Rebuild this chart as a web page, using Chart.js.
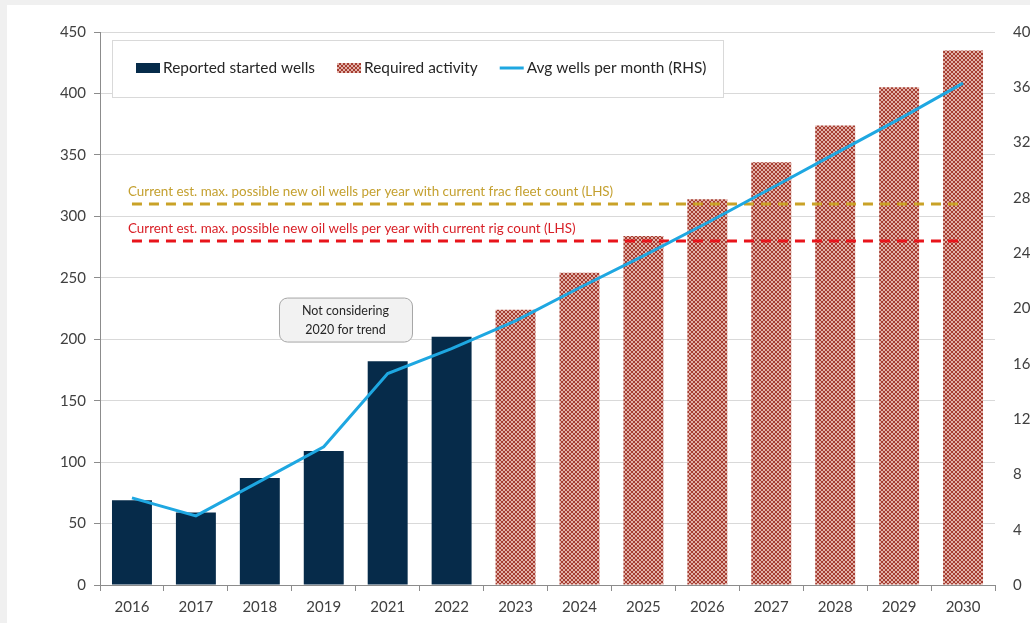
<!DOCTYPE html>
<html>
<head>
<meta charset="utf-8">
<script src="https://cdn.jsdelivr.net/npm/chart.js@4/dist/chart.umd.min.js"></script>
<style>
  html, body { margin: 0; padding: 0; background: #f0f0f0; overflow: hidden; }
  #wrap { position: absolute; left: 7px; top: 5px; width: 1023px; height: 618px; background: #fff; }
</style>
</head>
<body>
<div id="wrap"><canvas id="grafica"></canvas></div>
<script>
// datos del grafico
const years = ['2016', '2017', '2018', '2019', '2021', '2022', '2023', '2024', '2025', '2026', '2027', '2028', '2029', '2030']
const reportedWells = [69, 59, 87, 109, 182, 202, null, null, null, null, null, null, null, null]
const requiredActivity = [null, null, null, null, null, null, 224, 254, 284, 314, 344, 374, 405, 435]
const avgWellsPerMonth = [6.3, 5.0, 7.5, 10.0, 15.3, 17.1, 19.1, 21.5, 23.8, 26.2, 28.7, 31.2, 33.7, 36.3]
const fracFleetMax = 310
const rigCountMax = 280
const fracFleetLine = [310, 310, 310, 310, 310, 310, 310, 310, 310, 310, 310, 310, 310, 310]
const rigCountLine = [280, 280, 280, 280, 280, 280, 280, 280, 280, 280, 280, 280, 280, 280]
const fracText = 'Current est. max. possible new oil wells per year with current frac fleet count (LHS)'
const rigText = 'Current est. max. possible new oil wells per year with current rig count (LHS)'
const noteLines = ['Not considering', '2020 for trend']

const navy = '#062b4a'
const blue = '#1ea7e1'
const gold = '#c9a227'
const red = '#e8141b'
const fontFam = 'Lato, "Open Sans", sans-serif'

// relleno punteado de las barras "Required activity"
function makePattern() {
  const c = document.createElement('canvas')
  c.width = 4; c.height = 4
  const g = c.getContext('2d')
  g.fillStyle = '#a63d31'
  g.fillRect(0, 0, 4, 4)
  g.fillStyle = '#e2b2a9'
  g.fillRect(0, 0, 2, 2)
  g.fillRect(2, 2, 2, 2)
  return g.createPattern(c, 'repeat')
}
const brick = makePattern()

// leyenda con recuadro, dibujada a mano
const legendBox = {
  id: 'legendBox',
  afterDraw(chart) {
    const { ctx, chartArea } = chart
    const x0 = chartArea.left + 12, y0 = chartArea.top + 8
    ctx.save()
    ctx.fillStyle = '#fff'
    ctx.strokeStyle = '#d9d9d9'
    ctx.lineWidth = 1
    ctx.fillRect(x0, y0, 611, 57)
    ctx.strokeRect(x0 + 0.5, y0 + 0.5, 611, 57)
    ctx.font = '15.4px ' + fontFam
    ctx.textBaseline = 'middle'
    ctx.fillStyle = '#262626'
    const cy = y0 + 28
    let x = x0 + 24
    const items = [
      { text: 'Reported started wells', kind: 'box', color: navy },
      { text: 'Required activity', kind: 'box', color: brick },
      { text: 'Avg wells per month (RHS)', kind: 'line', color: blue }
    ]
    items.forEach(it => {
      if (it.kind === 'box') {
        ctx.fillStyle = it.color
        ctx.fillRect(x, cy - 5, 24, 10)
      } else {
        ctx.strokeStyle = it.color
        ctx.lineWidth = 3
        ctx.beginPath(); ctx.moveTo(x, cy); ctx.lineTo(x + 24, cy); ctx.stroke()
      }
      ctx.fillStyle = '#262626'
      ctx.fillText(it.text, x + 27, cy)
      x += 27 + ctx.measureText(it.text).width + 22
    })
    ctx.restore()
  }
}

// textos de las lineas de capacidad y nota
const notes = {
  id: 'notes',
  afterDatasetsDraw(chart) {
    const { ctx, scales } = chart
    const xs = scales.x, ys = scales.y
    const x0 = xs.getPixelForValue(0) - 4
    ctx.save()
    ctx.font = '13.4px ' + fontFam
    ctx.textBaseline = 'middle'
    ctx.fillStyle = '#c4a02f'
    ctx.fillText(fracText, x0, ys.getPixelForValue(fracFleetMax) - 12)
    ctx.fillStyle = '#d81f26'
    ctx.fillText(rigText, x0, ys.getPixelForValue(rigCountMax) - 12)

    // recuadro "Not considering 2020"
    const cx = xs.getPixelForValue(3.34), cy = ys.getPixelForValue(216)
    const w = 133, h = 44, r = 8
    ctx.font = '12.5px ' + fontFam
    ctx.beginPath()
    ctx.roundRect(cx - w / 2 + 0.5, cy - h / 2 + 0.5, w, h, r)
    ctx.fillStyle = '#f2f2f2'
    ctx.fill()
    ctx.strokeStyle = '#a6a6a6'
    ctx.lineWidth = 1
    ctx.stroke()
    ctx.fillStyle = '#262626'
    ctx.textAlign = 'center'
    ctx.fillText(noteLines[0], cx, cy - 9)
    ctx.fillText(noteLines[1], cx, cy + 10)
    ctx.restore()
  }
}

const tickFont = { family: fontFam, size: 15 }

const config = {
  data: {
    labels: years,
    datasets: [
      { type: 'line', label: 'Avg wells per month (RHS)', data: avgWellsPerMonth, yAxisID: 'y1',
        borderColor: blue, borderWidth: 3, pointRadius: 0, tension: 0, order: 0 },
      { type: 'line', label: 'frac', data: fracFleetLine, yAxisID: 'y',
        borderColor: gold, borderWidth: 3, borderDash: [10, 7], pointRadius: 0, order: 1 },
      { type: 'line', label: 'rig', data: rigCountLine, yAxisID: 'y',
        borderColor: red, borderWidth: 3, borderDash: [10, 7], pointRadius: 0, order: 1 },
      { type: 'bar', label: 'Reported started wells', data: reportedWells, backgroundColor: navy,
        grouped: false, barPercentage: 0.625, categoryPercentage: 1, order: 2 },
      { type: 'bar', label: 'Required activity', data: requiredActivity, backgroundColor: brick,
        grouped: false, barPercentage: 0.625, categoryPercentage: 1, order: 2 }
    ]
  },
  options: {
    responsive: true,
    maintainAspectRatio: false,
    animation: false,
    devicePixelRatio: 1,
    layout: { autoPadding: false, padding: { top: 25, left: 0, right: 0, bottom: 0 } },
    plugins: { legend: { display: false }, tooltip: { enabled: false } },
    scales: {
      x: {
        offset: true,
        grid: { drawOnChartArea: false, drawTicks: true, tickLength: 6, tickColor: '#8c8c8c', offset: true },
        border: { color: '#8c8c8c' },
        ticks: { font: tickFont, color: '#404040', padding: 7, maxRotation: 0, autoSkip: false },
        afterFit(s) { s.height = 38 }
      },
      y: {
        min: 0, max: 450,
        ticks: { stepSize: 50, font: tickFont, color: '#404040', padding: 8 },
        grid: { color: '#d9d9d9', tickColor: '#8c8c8c', tickLength: 6 },
        border: { color: '#8c8c8c' },
        afterFit(s) { s.width = 93 }
      },
      y1: {
        position: 'right',
        min: 0, max: 40,
        ticks: { stepSize: 4, font: tickFont, color: '#404040', padding: 18 },
        grid: { display: false, drawTicks: false },
        border: { display: false },
        afterFit(s) { s.width = 35 }
      }
    }
  },
  plugins: [notes, legendBox]
}

new Chart(document.getElementById('grafica'), config)
</script>
</body>
</html>
